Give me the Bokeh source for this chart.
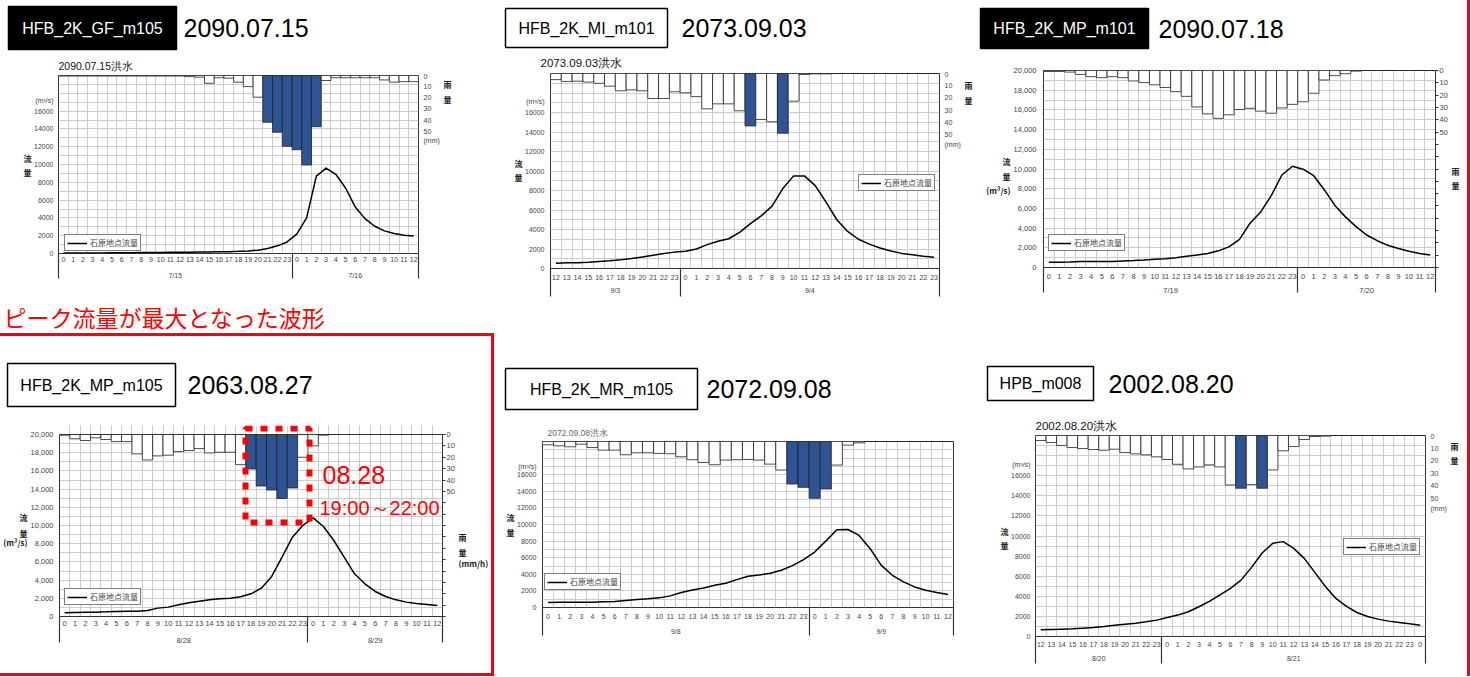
from bokeh.plotting import figure
from bokeh.models import (Range1d, LinearAxis, FixedTicker, Label, BoxAnnotation, Span,
                          Div, NumeralTickFormatter, ColumnDataSource)
from bokeh.layouts import row, column
from bokeh.embed import file_html
from bokeh.resources import INLINE
from bokeh.core.properties import value

# ---------------- data ----------------
LEGEND_TEXT = "石原地点流量"
RAIN_MAX = 160

P1_ID, P1_DATE, P1_TITLE = "HFB_2K_GF_m105", "2090.07.15", "2090.07.15洪水"
P1_HOURS = list(range(24)) + list(range(13))
P1_DAYS = ["7/15", "7/16"]
P1_DAYLEN = [24, 13]
P1_RAIN = [0.5] * 13 + [1, 1.5, 7, 2, 2.4, 6, 10, 19.5, 42, 51, 63.6,
                        66.7, 80.5, 46, 4.5, 2, 2, 2, 2, 2, 4, 6, 5.5, 5.5]
P1_FLOW = [50, 55, 60, 65, 70, 75, 80, 90, 100, 110, 120, 130, 140, 150, 160, 170,
           190, 210, 240, 280, 370, 560, 860, 1300,
           2200, 4000, 8700, 9600, 8900, 7360, 5230, 3920, 3060, 2540, 2240, 2050, 1980]
P1_HL = [21, 22, 23, 24, 25, 26]

P2_ID, P2_DATE, P2_TITLE = "HFB_2K_MI_m101", "2073.09.03", "2073.09.03洪水"
P2_HOURS = list(range(12, 24)) + list(range(24))
P2_DAYS = ["9/3", "9/4"]
P2_DAYLEN = [12, 24]
P2_RAIN = [5, 6.5, 6.3, 7, 8, 10.4, 14.2, 13.4, 14.2, 20.5, 20.5, 15,
           15.8, 19, 29, 24.9, 24.9, 30.6, 43, 37.7, 39.6, 49, 22.7, 0.8, 0.3, 0.3,
           0, 0, 0, 0, 0, 0, 0, 0, 0, 0]
P2_FLOW = [550, 580, 600, 640, 720, 800, 900, 1020, 1170, 1350, 1550, 1680,
           1780, 2000, 2450, 2800, 3050, 3700, 4600, 5400, 6400, 8200, 9500, 9500,
           8500, 6800, 5000, 3800, 3000, 2500, 2100, 1800, 1550, 1400, 1250, 1150]
P2_HL = [18, 21]

P3_ID, P3_DATE = "HFB_2K_MP_m101", "2090.07.18"
P3_HOURS = list(range(24)) + list(range(13))
P3_DAYS = ["7/19", "7/20"]
P3_DAYLEN = [24, 13]
P3_RAIN = [0.8, 0.8, 1.3, 3.2, 5, 5.8, 5, 5.8, 8.5, 9.8, 11.6, 13.8, 17.2, 21, 29.6,
           35.2, 38.9, 36, 31.7, 30.7, 33, 34.7, 30.4, 27.5,
           25.4, 18.5, 7.7, 4.2, 2.6, 0.5, 0, 0, 0, 0, 0, 0, 0]
P3_FLOW = [530, 530, 560, 600, 600, 600, 600, 660, 700, 760, 830, 900, 1000, 1130,
           1260, 1430, 1690, 2090, 2850, 4500, 5640, 7300, 9390, 10280,
           9980, 9320, 7900, 6300, 5140, 4150, 3300, 2720, 2250, 1920, 1660, 1430, 1260]
P3_HL = []

P4_ID, P4_DATE = "HFB_2K_MP_m105", "2063.08.27"
P4_HOURS = list(range(24)) + list(range(13))
P4_DAYS = ["8/28", "8/29"]
P4_DAYLEN = [24, 13]
P4_RAIN = [0.6, 3.8, 5.3, 2.9, 4.4, 6.2, 6.2, 17, 22.4, 18.8, 18.2, 15, 14.1, 12.4,
           16.2, 15.6, 15.6, 26.5, 30.3, 45.3, 48.8, 56.2, 47, 20,
           10, 0.6, 0, 0, 0, 0, 0, 0, 0, 0, 0, 0, 0]
P4_FLOW = [400, 440, 480, 480, 510, 550, 590, 590, 660, 920, 1030, 1280, 1500, 1680,
           1830, 1940, 2010, 2160, 2490, 3110, 4400, 6520, 8720, 10000,
           10840, 9890, 8350, 6520, 4690, 3590, 2750, 2200, 1830, 1580, 1430, 1320, 1210]
P4_HL = [18, 19, 20, 21, 22]
P4_NOTE_DAY = "08.28"
P4_NOTE_TIME = "19:00～22:00"
PEAK_TEXT = "ピーク流量が最大となった波形"

P5_ID, P5_DATE, P5_TITLE = "HFB_2K_MR_m105", "2072.09.08", "2072.09.08洪水"
P5_HOURS = list(range(24)) + list(range(13))
P5_DAYS = ["9/8", "9/9"]
P5_DAYLEN = [24, 13]
P5_RAIN = [3.2, 4.2, 5.1, 2.6, 5.8, 8.3, 8.3, 12.8, 10.9, 10.9, 11.5, 11.8, 14.7, 17.6,
           20.2, 22.4, 17.9, 17.6, 17.3, 17.9, 21.8, 27.5, 41, 44.2,
           54.7, 45.8, 22.7, 3.5, 1.3, 0, 0, 0, 0, 0, 0, 0, 0]
P5_FLOW = [600, 640, 640, 640, 640, 680, 720, 840, 960, 1040, 1160, 1400, 1800, 2120,
           2360, 2680, 2920, 3360, 3760, 3920, 4120, 4480, 5040, 5760,
           6680, 8000, 9360, 9400, 8680, 7080, 5080, 3880, 3080, 2480, 2080, 1800, 1560]
P5_HL = [22, 23, 24, 25]

P6_ID, P6_DATE, P6_TITLE = "HPB_m008", "2002.08.20", "2002.08.20洪水"
P6_HOURS = list(range(12, 24)) + list(range(24)) + [0]
P6_DAYS = ["8/20", "8/21"]
P6_DAYLEN = [12, 25]
P6_RAIN = [4, 5.6, 8, 9.6, 10.4, 11.2, 11.7, 10.9, 13.6, 14.6, 15.4, 17,
           19.1, 22.9, 26.6, 25, 23.4, 25, 39.4, 42, 39.1, 42, 27.4, 12.2, 8.8, 3.2,
           0.8, 0.5, 0, 0, 0, 0, 0, 0, 0, 0, 0]
P6_FLOW = [660, 700, 730, 760, 830, 900, 1000, 1130, 1230, 1330, 1460, 1630,
           1890, 2130, 2460, 2960, 3490, 4150, 4780, 5610, 6880, 8310, 9270, 9440,
           8770, 7770, 6380, 4980, 3790, 2990, 2390, 1990, 1730, 1530, 1400, 1260, 1130]
P6_HL = [19, 21]

# ---------------- layout / style (page pixels) ----------------
BLUE = "#2E5496"
RED = "#ff0000"
TICK_COLOR = "#444444"
FRAME_COLOR = "#333333"
FONT = "Liberation Sans"
CJK = "Noto Sans CJK JP"
TOP_H = 297          # height of the upper band
BOT_Y1 = 676         # bottom of the lower band

PANELS = [
    dict(hours=P1_HOURS, daylen=P1_DAYLEN, days=P1_DAYS, rain=P1_RAIN, flow=P1_FLOW, hl=P1_HL,
         outer=(0, 0, 500, TOP_H), frame=(58, 75, 418, 253), tb=3,
         title=(P1_TITLE, 58, 65.5, 10.5, "#111111"),
         header=dict(id=P1_ID, dark=True, box=(8, 6, 176, 49), date=P1_DATE, dx=183),
         legend=(64, 238, 137, 251), comma=False, unit=17200, rain_axis="short",
         lchars=[("流", 158), ("量", 172)], rchars=[("雨", 84), ("量", 99)],
         dh=7, dd=22, sep=25, fs=7, lso=5),
    dict(hours=P2_HOURS, daylen=P2_DAYLEN, days=P2_DAYS, rain=P2_RAIN, flow=P2_FLOW, hl=P2_HL,
         outer=(500, 0, 975, TOP_H), frame=(550, 73, 940, 268), tb=3,
         title=(P2_TITLE, 540, 62.5, 11.5, "#111111"),
         header=dict(id=P2_ID, dark=False, box=(505, 8, 667, 47), date=P2_DATE, dx=681),
         legend=(858, 179, 937, 191), comma=False, unit=17100, rain_axis="short",
         lchars=[("流", 163), ("量", 177)], rchars=[("雨", 85), ("量", 100)],
         dh=10, dd=22, sep=28, fs=7, lso=6),
    dict(hours=P3_HOURS, daylen=P3_DAYLEN, days=P3_DAYS, rain=P3_RAIN, flow=P3_FLOW, hl=P3_HL,
         outer=(975, 0, 1467, TOP_H), frame=(1043, 70, 1435, 271), tb=5,
         title=None,
         header=dict(id=P3_ID, dark=True, box=(980, 8, 1148, 48), date=P3_DATE, dx=1158),
         legend=(1048, 242, 1127, 255), comma=True, unit=None, rain_axis="full",
         lchars=[("流", 163), ("量", 178), ("(m³/s)", 192)],
         rchars=[("雨", 173), ("量", 187)],
         dh=10, dd=22, sep=25, fs=7.5, lso=7),
    dict(hours=P4_HOURS, daylen=P4_DAYLEN, days=P4_DAYS, rain=P4_RAIN, flow=P4_FLOW, hl=P4_HL,
         outer=(0, 336, 491, 673), frame=(57, 434, 447, 616), tb=5, ext_top=425,
         title=None,
         header=dict(id=P4_ID, dark=False, box=(7, 363, 175, 406), date=P4_DATE, dx=187),
         legend=(62, 593, 138, 605), comma=True, unit=None, rain_axis="full",
         lchars=[("流", 517), ("量", 533), ("(m³/s)", 542)],
         rchars=[("雨", 537), ("量", 552), ("(mm/h)", 563)],
         dh=8, dd=23, sep=26, fs=7.5, lso=6),
    dict(hours=P5_HOURS, daylen=P5_DAYLEN, days=P5_DAYS, rain=P5_RAIN, flow=P5_FLOW, hl=P5_HL,
         outer=(494, TOP_H, 975, BOT_Y1), frame=(542, 441, 953, 607), tb=3,
         title=(P5_TITLE, 547, 432.5, 8.5, "#666666"),
         header=dict(id=P5_ID, dark=False, box=(505, 368, 697, 409), date=P5_DATE, dx=706),
         legend=(544, 578, 621, 590), comma=False, unit=17000, rain_axis=None,
         lchars=[("流", 517), ("量", 532)], rchars=[],
         dh=10, dd=24, sep=28, fs=7, lso=6),
    dict(hours=P6_HOURS, daylen=P6_DAYLEN, days=P6_DAYS, rain=P6_RAIN, flow=P6_FLOW, hl=P6_HL,
         outer=(975, TOP_H, 1467, BOT_Y1), frame=(1035, 435, 1425, 636), tb=3,
         title=(P6_TITLE, 1035, 425, 11.5, "#111111"),
         header=dict(id=P6_ID, dark=False, box=(987, 366, 1093, 400), date=P6_DATE, dx=1108),
         legend=(1343, 542, 1422, 555), comma=False, unit=17100, rain_axis="short",
         lchars=[("流", 531), ("量", 545)], rchars=[("雨", 446), ("量", 460)],
         dh=9, dd=22, sep=27, fs=7, lso=5),
]


def style_axis_text(ax, size, font=FONT, color=TICK_COLOR, bold=False):
    ax.major_label_text_font_size = size
    ax.major_label_text_color = color
    ax.major_label_text_font = font
    ax.major_label_text_font_style = "bold" if bold else "normal"


def no_ticks(ax):
    ax.major_tick_line_color = None
    ax.major_tick_out = 0
    ax.major_tick_in = 0
    ax.minor_tick_line_color = None
    ax.minor_tick_out = 0
    ax.minor_tick_in = 0


def blank_fig(x0, y0, x1, y1):
    """A bare figure whose data units are page pixels (y downwards)."""
    return figure(width=x1 - x0, height=y1 - y0, x_range=Range1d(x0, x1), y_range=Range1d(y1, y0),
                  x_axis_type=None, y_axis_type=None, output_backend="svg",
                  toolbar_location=None, min_border=0, outline_line_color=None,
                  border_fill_color="white", background_fill_color="white")


def frame_top(c):
    return c.get("ext_top", c["frame"][1])


def make_header(c):
    ox0, oy0, ox1, oy1 = c["outer"]
    h = blank_fig(ox0, oy0, ox1, frame_top(c) - c["tb"])
    hd = c["header"]
    bx0, by0, bx1, by1 = hd["box"]
    h.quad(left=[bx0], right=[bx1], top=[by0], bottom=[by1],
           fill_color="black" if hd["dark"] else "white",
           line_color="black", line_width=1.5)
    cy = (by0 + by1) / 2
    h.text(x=[(bx0 + bx1) / 2], y=[cy], text=[hd["id"]], text_font=value(FONT),
           text_font_size=value("16px"), text_color="white" if hd["dark"] else "black",
           text_align="center", text_baseline="middle")
    h.text(x=[hd["dx"]], y=[cy], text=[hd["date"]], text_font=value(FONT),
           text_font_size=value("25px"), text_color="black",
           text_align="left", text_baseline="middle")
    if c["title"]:
        t, px, py, size, col = c["title"]
        h.text(x=[px], y=[py], text=[t], text_font=value(FONT),
               text_font_size=value(f"{size}px"), text_color=col,
               text_align="left", text_baseline="middle")
    return h


def make_chart(c):
    ox0, oy0, ox1, oy1 = c["outer"]
    fx0, fy0, fx1, fy1 = c["frame"]
    ft = frame_top(c)
    ext = ft != fy0
    n = len(c["hours"])
    tb = c["tb"]
    ytop = 20000 * (fy1 - ft) / (fy1 - fy0)
    rain_end = -RAIN_MAX * (fy0 - ft) / (fy1 - fy0)
    p = figure(width=ox1 - ox0, height=oy1 - ft + tb,
               x_range=Range1d(-0.5, n - 0.5), y_range=Range1d(0, ytop),
               output_backend="svg", toolbar_location=None,
               min_border_left=fx0 - ox0, min_border_right=ox1 - fx1,
               min_border_top=tb, min_border_bottom=oy1 - fy1,
               background_fill_color="white", border_fill_color="white",
               outline_line_color=None if ext else FRAME_COLOR, outline_line_width=1)
    p.extra_y_ranges = {"rain": Range1d(RAIN_MAX, rain_end)}

    def fy(py):  # page pixel row -> flow units
        return 20000 * (fy1 - py) / (fy1 - fy0)

    p.xgrid.ticker = FixedTicker(ticks=[i + 0.5 for i in range(n - 1)])
    p.ygrid.ticker = FixedTicker(ticks=list(range(1000, 20000, 1000)))
    p.grid.grid_line_color = "#cccccc"
    p.grid.grid_line_width = 1
    if ext:
        p.xgrid.bounds = (0, 20000)
        p.add_layout(Span(location=20000, dimension="width", line_color=FRAME_COLOR,
                          line_width=1))

    colors = [BLUE if i in c["hl"] else "white" for i in range(n)]
    src = ColumnDataSource(dict(x=list(range(n)), rain=c["rain"], flow=c["flow"], color=colors))
    p.vbar(x="x", width=1, bottom=0, top="rain", fill_color="color", line_color="#222222",
           line_width=0.8, y_range_name="rain", source=src)
    p.line(x="x", y="flow", line_color="black", line_width=1.5, source=src,
           legend_label=LEGEND_TEXT)

    fs = f'{c["fs"]}px'
    ya = p.yaxis[0]
    if c["comma"]:
        ya.ticker = FixedTicker(ticks=list(range(0, 20001, 2000)))
        ya.formatter = NumeralTickFormatter(format="0,0")
    else:
        ya.ticker = FixedTicker(ticks=list(range(0, 16001, 2000)) + [c["unit"]])
        ya.major_label_overrides = {c["unit"]: "(m³/s)"}
    if ext:
        ya.axis_line_color = FRAME_COLOR
        ya.bounds = (0, 20000)
    else:
        ya.axis_line_color = None
    no_ticks(ya)
    ya.major_label_standoff = c["lso"]
    style_axis_text(ya, fs)

    lt = [fy(py) for _, py in c["lchars"]]
    la = LinearAxis(ticker=FixedTicker(ticks=lt),
                    major_label_overrides={t: ch for t, (ch, _) in zip(lt, c["lchars"])})
    la.axis_line_color = None
    no_ticks(la)
    la.major_label_standoff = 0
    style_axis_text(la, "8px", font=CJK, color="#222222", bold=True)
    p.add_layout(la, "left")

    seps = [-0.499]
    acc = 0
    centers = []
    for L in c["daylen"]:
        centers.append(acc - 0.5 + L / 2)
        acc += L
        seps.append(acc - 0.5 if acc < n else n - 0.501)
    sep_px = c["sep"]
    xa = p.xaxis[0]
    xa.ticker = FixedTicker(ticks=list(range(n)), minor_ticks=seps)
    xa.major_label_overrides = {i: str(hr) for i, hr in enumerate(c["hours"])}
    xa.axis_line_color = FRAME_COLOR if ext else None
    xa.major_tick_line_color = None
    xa.major_tick_out = 0
    xa.major_tick_in = 0
    xa.minor_tick_in = 0
    xa.minor_tick_out = sep_px
    xa.minor_tick_line_color = "#333333"
    xa.minor_tick_line_width = 1.2
    hso = max(c["dh"] - 4, 1)
    xa.major_label_standoff = hso - sep_px
    style_axis_text(xa, fs)

    da = LinearAxis(ticker=FixedTicker(ticks=centers),
                    major_label_overrides={ct: d for ct, d in zip(centers, c["days"])})
    da.axis_line_color = None
    no_ticks(da)
    da.major_label_standoff = max(c["dd"] - 4 - (hso + 8), 0)
    style_axis_text(da, fs)
    p.add_layout(da, "below")

    ra = None
    if c["rain_axis"] == "full":
        ticks = list(range(0, RAIN_MAX + 1, 10))
        ra = LinearAxis(y_range_name="rain", ticker=FixedTicker(ticks=ticks),
                        major_label_overrides={t: "" for t in ticks if t > 50})
        ra.axis_line_color = FRAME_COLOR
        ra.bounds = (0, RAIN_MAX)
        ra.major_tick_in = 0
        ra.major_tick_out = 3
        ra.major_tick_line_color = FRAME_COLOR
        ra.minor_tick_line_color = None
        ra.major_label_standoff = 1
    elif c["rain_axis"] == "short":
        ra = LinearAxis(y_range_name="rain", ticker=FixedTicker(ticks=[0, 10, 20, 30, 40, 50, 58]),
                        major_label_overrides={58: "(mm)"})
        ra.axis_line_color = None
        no_ticks(ra)
        ra.major_label_standoff = 5
    if ra is not None:
        style_axis_text(ra, fs)
        p.add_layout(ra, "right")

    if c["rchars"]:
        rt_ = [fy(py) for _, py in c["rchars"]]
        rca = LinearAxis(ticker=FixedTicker(ticks=rt_),
                         major_label_overrides={t: ch for t, (ch, _) in zip(rt_, c["rchars"])})
        rca.axis_line_color = None
        no_ticks(rca)
        rca.major_label_standoff = 1
        style_axis_text(rca, "8px", font=CJK, color="#222222", bold=True)
        p.add_layout(rca, "right")

    lx0, ly0, lx1, ly1 = c["legend"]
    lg = p.legend[0]
    lg.location = (lx0 - fx0, fy1 - ly1)
    lg.border_line_color = "black"
    lg.border_line_width = 1
    lg.background_fill_color = "white"
    lg.background_fill_alpha = 1
    lg.label_text_font_size = "8px"
    lg.label_text_font = CJK
    lg.glyph_width = 20
    lg.glyph_height = 8
    lg.label_height = 8
    lg.padding = 2
    lg.margin = 0
    lg.spacing = 0
    lg.label_standoff = 3
    return p


headers = [make_header(c) for c in PANELS]
charts = [make_chart(c) for c in PANELS]

# peak highlight on panel 4 (screen units relative to the plot frame)
c4 = PANELS[3]
p4 = charts[3]
f4x0, f4y0, f4x1, f4y1 = c4["frame"]
HL_BOX = (243, 428, 307, 522)   # stroke centre, page pixels
p4.add_layout(BoxAnnotation(left=HL_BOX[0] - f4x0, right=HL_BOX[2] - f4x0,
                            top=f4y1 - HL_BOX[1], bottom=f4y1 - HL_BOX[3],
                            left_units="screen", right_units="screen",
                            top_units="screen", bottom_units="screen",
                            fill_color=None, fill_alpha=0, line_color=RED, line_alpha=1,
                            line_width=6, line_dash="7 8"))
for txt, px, py, size in [(P4_NOTE_DAY, 320, 474, 25), (P4_NOTE_TIME, 317, 507, 20)]:
    p4.add_layout(Label(x=px - f4x0, y=f4y1 - py, x_units="screen", y_units="screen",
                        text=txt, text_font=FONT, text_font_size=f"{size}px",
                        text_color=RED, text_align="left", text_baseline="middle"))

# red caption above the framed panel
rt = blank_fig(0, TOP_H, 494, 333)
rt.text(x=[3], y=[316], text=[PEAK_TEXT], text_font=value(CJK), text_font_size=value("23px"),
        text_color=RED, text_align="left", text_baseline="middle")


def red_bar(w, h):
    return Div(width=w, height=h, margin=0, styles={"background-color": RED})


def panel(i):
    return column(row(headers[i], spacing=0), charts[i], spacing=0)


left_col = column(
    rt,
    red_bar(494, 3),
    row(panel(3), red_bar(3, 673 - 336), spacing=0),
    red_bar(494, BOT_Y1 - 673),
    spacing=0)

top_row = row(panel(0), panel(1), panel(2), spacing=0)
bottom_row = row(left_col, panel(4), panel(5), spacing=0)
page = row(column(top_row, bottom_row, spacing=0), red_bar(3, BOT_Y1), spacing=0)

open("out.html", "w").write(file_html(page, INLINE))
